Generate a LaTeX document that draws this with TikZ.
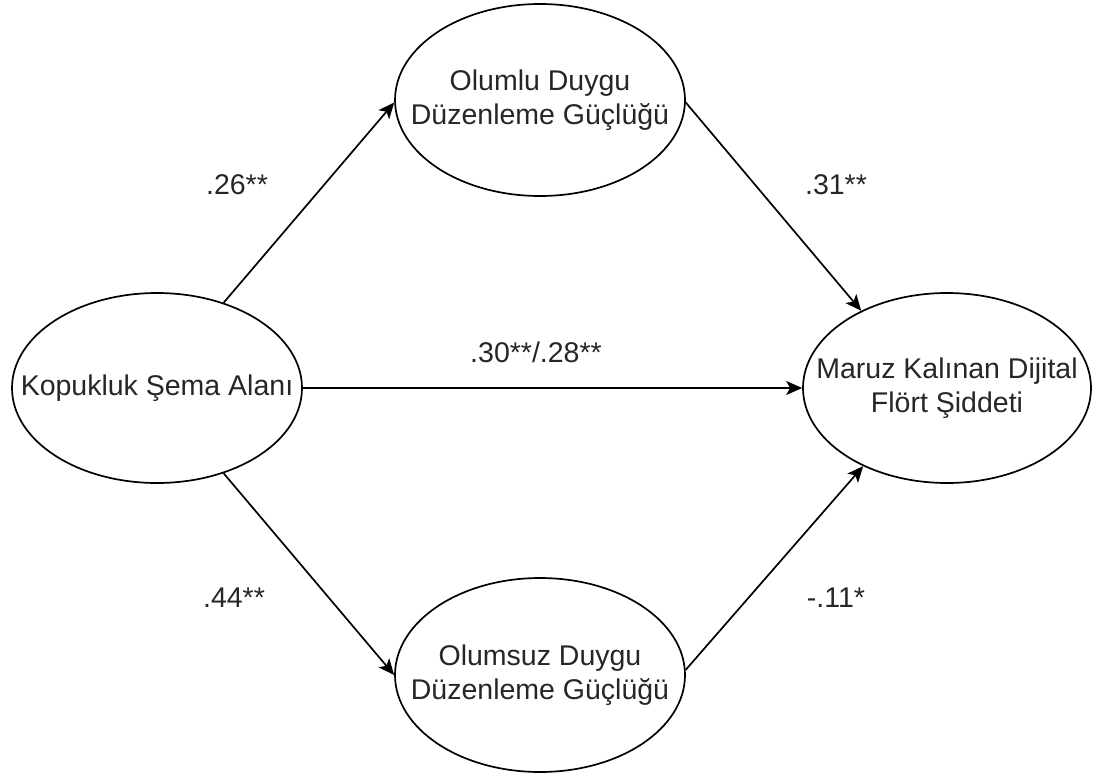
\documentclass[tikz,border=0pt]{standalone}
\usepackage{fontspec}
\setmainfont{Liberation Sans}
\usetikzlibrary{shapes.geometric,arrows.meta}
\begin{document}
\begin{tikzpicture}[x=1pt,y=-1pt,
  latent/.style={ellipse,draw=black,line width=1.7pt,inner sep=0pt},
  ltext/.style={align=center,text=black!85,font=\fontsize{28.5}{34}\selectfont,inner sep=0pt},
  path/.style={draw=black,line width=1.7pt,-{Stealth[length=16pt,width=14pt,inset=4pt]}},
  coef/.style={text=black!85,font=\fontsize{28.5}{34}\selectfont,inner sep=0pt}]
\useasboundingbox (0,0) rectangle (1097,776);
\node[latent,minimum width=290pt,minimum height=190pt] (L) at (157,388) {};
\node[ltext] (Lt) at (L.center) {Kopukluk Şema Alanı};
\node[latent,minimum width=290pt,minimum height=192pt] (T) at (540,100) {};
\node[ltext] (Tt) at (T.center) {Olumlu Duygu\\Düzenleme Güçlüğü};
\node[latent,minimum width=290pt,minimum height=194pt] (B) at (540,675) {};
\node[ltext] (Bt) at (B.center) {Olumsuz Duygu\\Düzenleme Güçlüğü};
\node[latent,minimum width=288pt,minimum height=190pt] (R) at (947,388) {};
\node[ltext] (Rt) at (R.center) {Maruz Kalınan Dijital\\Flört Şiddeti};
\draw[path] (L.52) -- (T.181);
\draw[path] (L.-52) -- (B.180);
\draw[path] (L.east) -- (R.west);
\draw[path] (T.-1) -- (R.138);
\draw[path] (B.2) -- (R.-137);
\node[coef] (c1) at (237,185) {.26**};
\node[coef] (c2) at (836,185) {.31**};
\node[coef] (c3) at (536,352) {.30**/.28**};
\node[coef] (c4) at (234,598) {.44**};
\node[coef] (c5) at (836,598) {-.11*};
\end{tikzpicture}
\end{document}
